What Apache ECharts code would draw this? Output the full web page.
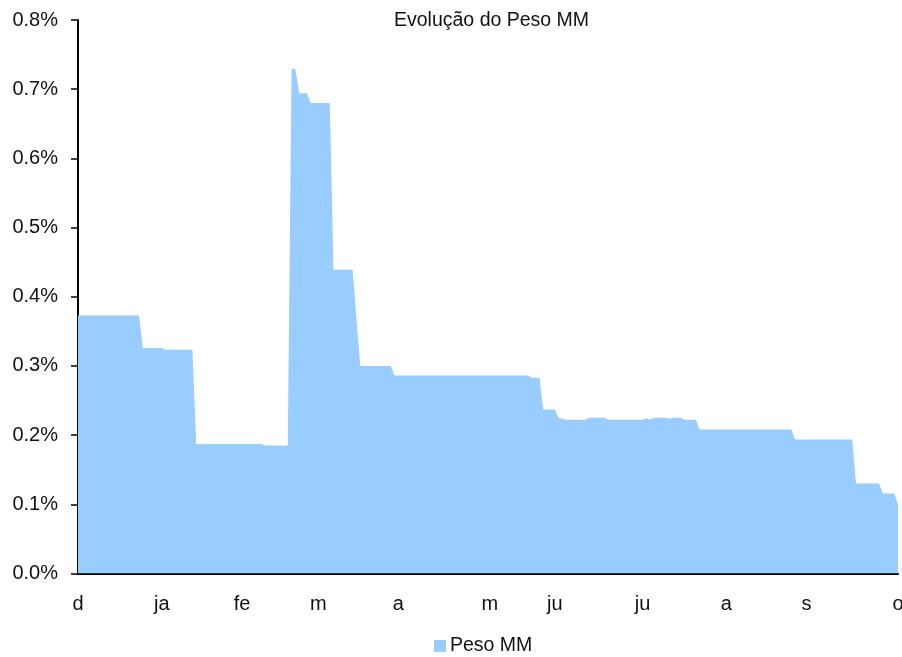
<!DOCTYPE html>
<html>
<head>
<meta charset="utf-8">
<script src="https://cdn.jsdelivr.net/npm/echarts@6/dist/echarts.min.js"></script>
<style>
html,body{margin:0;padding:0;background:#fff;}
#chart{width:902px;height:657px;}
</style>
</head>
<body>
<div id="chart"></div>
<script>
// Observation index (x) and weight in % (y) at each break point of the series
const obsIdx = [0, 16, 17, 22, 23, 30, 31, 48, 49, 55, 56, 57, 58, 60, 61, 66, 67, 72, 74, 82, 83, 118, 119, 121, 122, 125, 126, 128, 133, 134, 138, 139, 148, 149, 150, 151, 154, 155, 156, 158, 159, 162, 163, 187, 188, 203, 204, 210, 211, 214, 215];
const pesoMM = [0.373, 0.373, 0.326, 0.326, 0.3235, 0.3235, 0.187, 0.187, 0.185, 0.185, 0.729, 0.729, 0.694, 0.694, 0.680, 0.680, 0.439, 0.439, 0.300, 0.300, 0.286, 0.286, 0.283, 0.283, 0.237, 0.237, 0.225, 0.2224, 0.2224, 0.225, 0.225, 0.2222, 0.2222, 0.2245, 0.2222, 0.225, 0.225, 0.2235, 0.225, 0.225, 0.2222, 0.2222, 0.208, 0.208, 0.1935, 0.1935, 0.130, 0.130, 0.1155, 0.1155, 0.100];

// x-axis month labels (first observation of each month)
const labelIdx = [0, 22, 43, 63, 84, 108, 125, 148, 170, 191, 215];
const labelText = ['d', 'ja', 'fe', 'm', 'a', 'm', 'ju', 'ju', 'a', 's', 'o'];

// y-axis ticks
const yTicks = [0, 0.1, 0.2, 0.3, 0.4, 0.5, 0.6, 0.7, 0.8];

const seriesData = obsIdx.map((x, i) => [x, pesoMM[i]]);
const FONT = "'Liberation Sans', Arial, sans-serif";

const chart = echarts.init(document.getElementById('chart'), null, {renderer: 'canvas'});
chart.setOption({
  animation: false,
  backgroundColor: '#ffffff',
  title: {
    text: 'Evolução do Peso MM',
    left: 394,
    top: 11,
    padding: 0,
    textStyle: {fontFamily: FONT, fontSize: 19.5, fontWeight: 'normal', color: '#111'}
  },
  legend: {
    data: ['Peso MM'],
    left: 434,
    top: 636,
    padding: 0,
    icon: 'rect',
    itemWidth: 12,
    itemHeight: 12,
    itemGap: 10,
    textStyle: {fontFamily: FONT, fontSize: 19.5, color: '#111', padding: [0, 0, 0, -1]}
  },
  grid: {left: 78, right: 4, top: 20, bottom: 83.5, containLabel: false, outerBoundsMode: 'none'},
  xAxis: {
    type: 'value',
    min: labelIdx[0],
    max: labelIdx[labelIdx.length - 1],
    splitLine: {show: false},
    axisTick: {show: false},
    axisLine: {show: true, lineStyle: {color: '#000', width: 2}},
    axisLabel: {
      customValues: labelIdx,
      showMinLabel: true,
      showMaxLabel: true,
      hideOverlap: false,
      margin: 21,
      fontFamily: FONT,
      fontSize: 20,
      color: '#111',
      formatter: function (v) { const k = labelIdx.indexOf(v); return k >= 0 ? labelText[k] : ''; }
    }
  },
  yAxis: {
    type: 'value',
    min: yTicks[0],
    max: yTicks[yTicks.length - 1],
    interval: 0.1,
    splitLine: {show: false},
    axisLine: {show: true, lineStyle: {color: '#000', width: 2}},
    axisTick: {show: true, inside: false, length: 7, lineStyle: {color: '#000', width: 1.5}},
    axisLabel: {
      margin: 20,
      fontFamily: FONT,
      fontSize: 20,
      color: '#111',
      padding: [5, 0, 0, 0],
      formatter: function (v) { return v.toFixed(1) + '%'; }
    }
  },
  series: [{
    name: 'Peso MM',
    type: 'line',
    data: seriesData,
    showSymbol: false,
    symbol: 'none',
    lineStyle: {width: 0},
    itemStyle: {color: '#99CCFF'},
    areaStyle: {color: '#99CCFF', opacity: 1},
    z: 1
  }]
});
</script>
</body>
</html>
